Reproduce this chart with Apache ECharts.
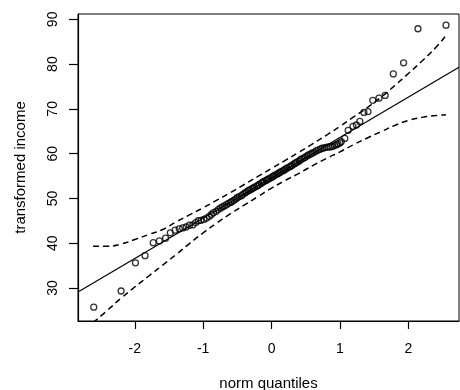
<!DOCTYPE html>
<html>
<head>
<meta charset="utf-8">
<script src="https://cdn.jsdelivr.net/npm/echarts@6/dist/echarts.min.js"></script>
<style>
  html, body { margin: 0; padding: 0; background: #fff; }
  #chart { width: 460px; height: 390px; }
</style>
</head>
<body>
<div id="chart"></div>
<script>
// Normal quantile plot of transformed income, with fitted line and pointwise envelope.

// theoretical normal quantiles (x) and sorted observations (y)
const quantX = [
  -2.60,-2.20,-1.99,-1.85,-1.73,-1.64,-1.55,-1.48,-1.41,-1.35,
  -1.30,-1.25,-1.20,-1.15,-1.11,-1.07,-1.03,-0.99,-0.95,-0.91,
  -0.88,-0.85,-0.81,-0.78,-0.75,-0.72,-0.69,-0.66,-0.63,-0.60,
  -0.58,-0.55,-0.52,-0.50,-0.47,-0.44,-0.42,-0.39,-0.37,-0.34,
  -0.32,-0.29,-0.27,-0.25,-0.22,-0.20,-0.18,-0.15,-0.13,-0.11,
  -0.08,-0.06,-0.04,-0.01,
  0.01,0.03,0.05,0.08,0.10,0.12,0.14,0.17,0.19,0.21,
  0.23,0.26,0.28,0.30,0.33,0.35,0.37,0.40,0.42,0.44,
  0.47,0.49,0.52,0.54,0.57,0.59,0.62,0.65,0.68,0.71,
  0.74,0.77,0.80,0.83,0.86,0.89,0.92,0.95,0.97,1.00,
  1.02,1.07,1.12,1.19,1.24,1.29,1.35,1.41,1.48,1.57,
  1.66,1.78,1.93,2.14,2.55
];
const incomeY = [
  25.7,29.3,35.6,37.2,40.1,40.5,41.1,42.3,42.9,43.2,
  43.4,43.6,44.0,44.1,44.6,45.0,45.1,45.3,45.6,46.0,
  46.4,46.8,47.1,47.5,47.8,48.1,48.3,48.6,48.9,49.1,
  49.3,49.6,49.9,50.2,50.4,50.6,50.9,51.2,51.4,51.7,
  51.9,52.1,52.3,52.5,52.7,52.9,53.1,53.4,53.6,53.8,
  54.0,54.2,54.4,54.6,
  54.8,55.0,55.2,55.4,55.6,55.8,56.0,56.2,56.4,56.6,
  56.8,57.0,57.2,57.4,57.7,57.9,58.1,58.3,58.6,58.8,
  59.0,59.2,59.5,59.7,59.9,60.1,60.3,60.6,60.8,61.0,
  61.2,61.3,61.4,61.5,61.5,61.6,61.8,62.0,62.2,62.4,
  62.7,63.4,65.2,66.1,66.4,67.2,69.2,69.4,71.9,72.4,
  73.0,77.8,80.3,87.9,88.7
];

// fitted reference line, end points at the plot edges
const fitX = [-2.83, 2.74];
const fitY = [29.1, 79.3];

// pointwise confidence envelope
const envX   = [-2.61,-2.4,-2.2,-2.0,-1.8,-1.6,-1.4,-1.2,-1.0,-0.8,-0.6,-0.4,-0.2,0,0.2,0.4,0.6,0.8,1.0,1.2,1.4,1.6,1.8,2.0,2.2,2.4,2.55];
const upperY = [39.3,39.3,39.8,40.8,41.9,43.0,44.7,46.3,47.9,49.6,51.3,53.1,54.9,56.7,58.5,60.3,62.2,64.1,66.1,68.2,70.3,72.6,75.2,77.9,80.7,83.7,86.4];
const lowerY = [22.2,25.0,27.7,30.2,32.6,35.0,37.4,39.9,42.3,44.5,46.6,48.5,50.4,52.3,54.0,55.6,57.3,58.9,60.4,62.0,63.5,64.9,66.3,67.4,68.1,68.5,68.7];

// tick positions
const xTicks = [-2, -1, 0, 1, 2];
const yTicks = [30, 40, 50, 60, 70, 80, 90];

const FONT = '"Liberation Sans", Arial, Helvetica, sans-serif';
const INK = '#000';

const zip = (xs, ys) => xs.map((x, i) => [x, ys[i]]);

const chart = echarts.init(document.getElementById('chart'), null, { renderer: 'canvas' });

chart.setOption({
  animation: false,
  backgroundColor: '#fff',
  grid: {
    left: 78, right: 1, top: 14, bottom: 69,
    outerBoundsMode: 'none',
    containLabel: false,
    show: true, borderColor: INK, borderWidth: 1, backgroundColor: 'transparent'
  },
  xAxis: {
    type: 'value',
    min: -2.83, max: 2.74,
    name: 'norm quantiles',
    nameLocation: 'middle',
    nameGap: 55,
    nameTextStyle: { fontFamily: FONT, fontSize: 15, color: INK },
    axisLine: { show: true, onZero: false, lineStyle: { color: INK, width: 1.2 } },
    axisTick: { show: true, length: 8, customValues: xTicks, lineStyle: { color: INK, width: 1.2 } },
    axisLabel: { customValues: xTicks, margin: 21, fontFamily: FONT, fontSize: 14, color: INK },
    splitLine: { show: false }
  },
  yAxis: {
    type: 'value',
    min: 22.6, max: 91.2,
    name: 'transformed income',
    nameLocation: 'middle',
    nameGap: 50,
    nameRotate: 90,
    nameTextStyle: { fontFamily: FONT, fontSize: 15, color: INK },
    axisLine: { show: true, onZero: false, lineStyle: { color: INK, width: 1.2 } },
    axisTick: { show: true, length: 9, customValues: yTicks, lineStyle: { color: INK, width: 1.2 } },
    axisLabel: { customValues: yTicks, rotate: 90, margin: 18, fontFamily: FONT, fontSize: 14, color: INK },
    splitLine: { show: false }
  },
  series: [
    {
      name: 'upper',
      type: 'line',
      data: zip(envX, upperY),
      smooth: true,
      showSymbol: false,
      clip: true,
      lineStyle: { color: INK, width: 1.5, type: [6, 4] },
      z: 2
    },
    {
      name: 'lower',
      type: 'line',
      data: zip(envX, lowerY),
      smooth: true,
      showSymbol: false,
      clip: true,
      lineStyle: { color: INK, width: 1.5, type: [6, 4] },
      z: 2
    },
    {
      name: 'fit',
      type: 'line',
      data: zip(fitX, fitY),
      showSymbol: false,
      clip: true,
      lineStyle: { color: INK, width: 1.2 },
      z: 3
    },
    {
      name: 'income',
      type: 'scatter',
      data: zip(quantX, incomeY),
      symbol: 'circle',
      symbolSize: 6,
      itemStyle: { color: 'rgba(0,0,0,0)', borderColor: INK, borderWidth: 1.3 },
      z: 4
    }
  ]
});
</script>
</body>
</html>
